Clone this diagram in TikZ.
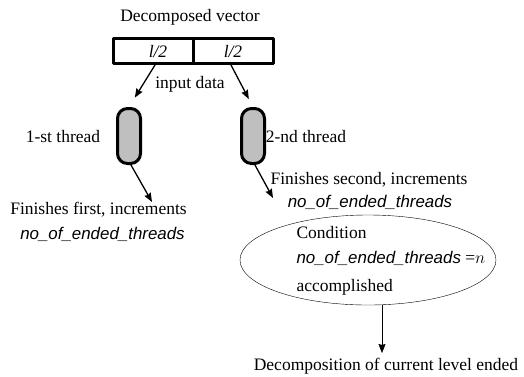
\documentclass[tikz,border=0pt]{standalone}
\usepackage{fontspec}
\setmainfont{Liberation Serif}
\newfontfamily\varfont{Liberation Sans}
\usetikzlibrary{shapes.geometric,arrows.meta}
\begin{document}
\begin{tikzpicture}[x=1pt,y=-1pt,font=\fontsize{17.5}{20}\selectfont,line join=round,line cap=round,>={Stealth[length=9pt,width=7pt,inset=1pt]},
	cell/.style={draw,line width=3pt,minimum width=80pt,minimum height=25pt,inner sep=0pt},
	thread/.style={draw,line width=3pt,fill=gray!50,rounded corners=10pt,minimum width=23pt,minimum height=55pt,inner sep=0pt},
	var/.style={font=\varfont\itshape\fontsize{16.9}{20}\selectfont},
	arr/.style={->,line width=1.3pt}]
	\useasboundingbox (0,0) rectangle (524,376);
	% decomposed vector
	\node (title) at (190,17) {Decomposed vector};
	\node[cell] (h1) at (153,51) {};
	\node[cell] (h2) at (233,51) {};
	\node at (158,52) {\itshape l/2};
	\node at (233,52) {\itshape l/2};
	\node (input) at (190,84) {input data};
	% threads
	\node[thread] (t1) at (129,136) {};
	\node[thread] (t2) at (253,136) {};
	\node (n1) at (63,137) {1-st thread};
	\node (n2) at (306,137) {2-nd thread};
	\draw[arr,shorten >=11pt] ([xshift=2pt]h1.south) -- (t1.north);
	\draw[arr,shorten >=9pt] ([xshift=-2pt]h2.south) -- (t2.north);
	\path
	(152,202) coordinate (e1)
	(273,198) coordinate (e2)
	(382,353) coordinate (e3)
	;
	% finishing
	\draw[arr] ([xshift=2pt]t1.south) -- (e1);
	\draw[arr] ([xshift=2pt]t2.south) -- (e2);
	\node (f1) at (98.5,210) {Finishes first, increments};
	\node[var] (v1) at (102.5,234) {no\_of\_ended\_threads};
	\node (f2) at (369,180) {Finishes second, increments};
	\node[var] (v2) at (370,202) {no\_of\_ended\_threads};
	% condition
	\node[ellipse,draw,thin,minimum width=256pt,minimum height=90pt,inner sep=0pt] (cond) at (368,260) {};
	\node[anchor=west] (c1) at (293,233) {Condition};
	\node[anchor=west] (c2) at (293,258) {{\varfont\itshape\fontsize{16.9}{20}\selectfont no\_of\_ended\_threads} =$n$};
	\node[anchor=west] (c3) at (293,287) {accomplished};
	\draw[->,thin] (cond.south -| e3) -- (e3);
	\node (done) at (386,366) {Decomposition of current level ended};
\end{tikzpicture}
\end{document}
